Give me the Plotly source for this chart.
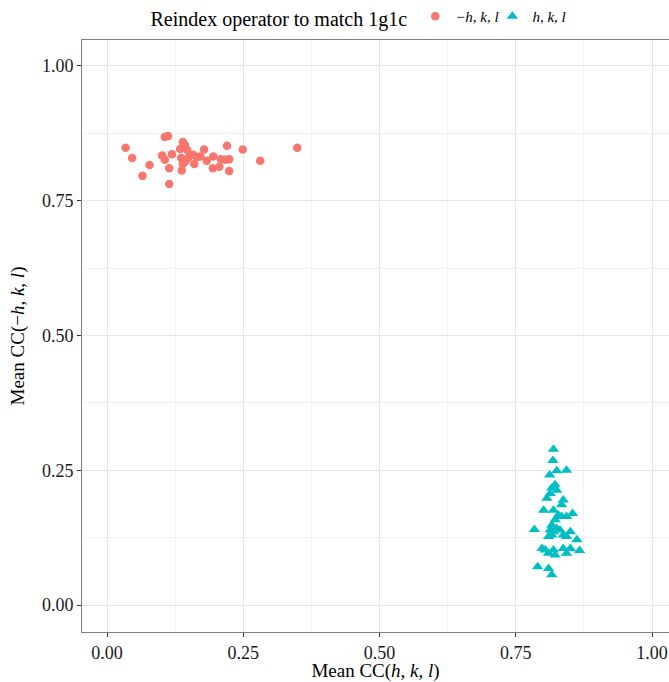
import plotly.graph_objects as go

# Red circles: -h, k, l
neg_x = [0.034, 0.046, 0.078, 0.065, 0.106, 0.112, 0.101, 0.106, 0.119, 0.114, 0.114,
         0.134, 0.143, 0.147, 0.139, 0.136, 0.143, 0.149, 0.158, 0.165, 0.139, 0.137,
         0.160, 0.178, 0.171, 0.183, 0.195, 0.209, 0.217, 0.224, 0.194, 0.206, 0.224,
         0.220, 0.249, 0.281, 0.349]
neg_y = [0.848, 0.829, 0.816, 0.796, 0.868, 0.870, 0.834, 0.826, 0.836, 0.810, 0.781,
         0.846, 0.853, 0.844, 0.859, 0.829, 0.822, 0.829, 0.835, 0.831, 0.818, 0.806,
         0.818, 0.845, 0.832, 0.824, 0.832, 0.827, 0.826, 0.827, 0.810, 0.813, 0.805,
         0.852, 0.845, 0.824, 0.848]

# Teal triangles: h, k, l
pos_x = [0.819, 0.818, 0.825, 0.843, 0.812, 0.822, 0.816, 0.825, 0.813, 0.807, 0.837,
         0.834, 0.801, 0.819, 0.828, 0.834, 0.843, 0.854, 0.822, 0.816, 0.784, 0.813,
         0.819, 0.825, 0.831, 0.810, 0.816, 0.837, 0.850, 0.843, 0.862, 0.798, 0.804,
         0.810, 0.819, 0.822, 0.837, 0.850, 0.843, 0.867, 0.790, 0.810, 0.816]
pos_y = [0.289, 0.268, 0.249, 0.250, 0.241, 0.223, 0.217, 0.213, 0.207, 0.198, 0.195,
         0.186, 0.176, 0.176, 0.167, 0.164, 0.164, 0.170, 0.158, 0.148, 0.140, 0.139,
         0.136, 0.142, 0.139, 0.127, 0.130, 0.130, 0.136, 0.127, 0.121, 0.105, 0.102,
         0.096, 0.102, 0.093, 0.105, 0.105, 0.096, 0.101, 0.071, 0.068, 0.056]

tick_vals = [0.0, 0.25, 0.5, 0.75, 1.0]
tick_text = ["0.00", "0.25", "0.50", "0.75", "1.00"]

FONT = "Liberation Serif, Times New Roman, serif"

fig = go.Figure()
fig.add_trace(go.Scatter(
    x=neg_x, y=neg_y, mode="markers", name="<i>−h</i>, <i>k</i>, <i>l</i>",
    marker=dict(symbol="circle", size=8.5, color="#F8766D"), legend="legend",
))
fig.add_trace(go.Scatter(
    x=pos_x, y=pos_y, mode="markers", name="<i>h</i>, <i>k</i>, <i>l</i>",
    marker=dict(symbol="triangle-up", size=10, color="#00BFC4"), legend="legend2",
))

axis_common = dict(
    tickvals=tick_vals, ticktext=tick_text,
    showgrid=True, gridcolor="#E5E5E5", gridwidth=1,
    minor=dict(tick0=0.125, dtick=0.25, showgrid=True, gridcolor="#F2F2F2", gridwidth=0.6),
    zeroline=False, automargin=False,
    showline=True, linecolor="#7F7F7F", linewidth=1, mirror=True,
    ticks="outside", ticklen=4, tickcolor="#333333", tickwidth=1,
    tickfont=dict(family=FONT, size=18, color="#1a1a1a"),
)

fig.update_xaxes(range=[-0.046, 1.031],
                 title=dict(text="Mean CC(<i>h</i>, <i>k</i>, <i>l</i>)",
                            font=dict(family=FONT, size=19, color="black"), standoff=8),
                 **axis_common)
fig.update_yaxes(range=[-0.050, 1.048],
                 title=dict(text="Mean CC(−<i>h</i>, <i>k</i>, <i>l</i>)",
                            font=dict(family=FONT, size=19, color="black"), standoff=12),
                 **axis_common)

legend_common = dict(
    orientation="h", xref="container", yref="container",
    xanchor="left", y=1.0, yanchor="top",
    font=dict(family=FONT, size=15),
    itemwidth=30, tracegroupgap=0, bgcolor="rgba(0,0,0,0)",
)

fig.update_layout(
    width=669, height=682,
    margin=dict(l=82, r=0, t=40, b=50, autoexpand=False),
    plot_bgcolor="white", paper_bgcolor="white",
    font=dict(family=FONT, color="black"),
    legend=dict(
        x=0.222,
        title=dict(text="Reindex operator to match 1g1c", font=dict(family=FONT, size=20)),
        **legend_common,
    ),
    legend2=dict(x=0.736, **legend_common),
    showlegend=True,
)

fig.write_html("out.html", config={"displayModeBar": False},
               post_script="document.body.style.margin='0px';")
